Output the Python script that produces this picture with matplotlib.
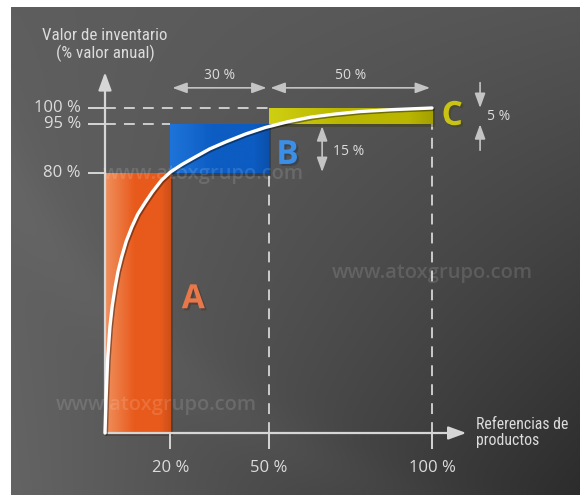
import numpy as np
import matplotlib
matplotlib.use('Agg')
import matplotlib.pyplot as plt
from matplotlib.patches import FancyArrowPatch
from matplotlib import patheffects as pe

# ---------------- data ----------------
classes = ['A', 'B', 'C']
cum_items = [20, 50, 100]        # cumulative % of product references
cum_value = [80, 95, 100]        # cumulative % of annual inventory value
x_ticks = [20, 50, 100]
x_tick_labels = ['20 %', '50 %', '100 %']
y_ticks = [80, 95, 100]
y_tick_labels = ['80 %', '95 %', '100 %']
curve_x = [0, 0.3, 0.8, 1.5, 2.2, 3.1, 4.0, 5.1, 6.5, 8.2, 10, 12.2, 14.5, 17.3,
           20, 23.5, 27, 32, 37, 43, 49, 56, 63, 70, 78, 88, 100]
curve_y = [0, 10, 22.5, 32.6, 39, 44.9, 49.8, 54.2, 59, 63.4, 67.3, 70.8, 74.2, 77.8,
           80.3, 82.6, 84.6, 87.4, 89.6, 92.0, 94.0, 95.8, 97.2, 98.1, 98.9, 99.5, 100]
y_title = 'Valor de inventario\n(% valor anual)'
x_title = 'Referencias de\nproductos'
watermark = 'www.atoxgrupo.com'

# ---------------- style ----------------
FONT = ['Open Sans', 'DejaVu Sans']
COND = ['Roboto Condensed', 'Liberation Sans Narrow', 'Roboto', 'DejaVu Sans']
LINE = '#d6d6d6'
TXT = '#dcdcdc'
ARR = '#c4c4c4'
bar_main = ['#e85a1c', '#0c5cc2', '#bab600']
bar_light = ['#f0905e', '#1e74da', '#cfcf12']
letter_colors = ['#e8784a', '#3d8fe6', '#c9c414']

fig = plt.figure(figsize=(5.8, 4.95), dpi=100)
fig.patch.set_facecolor('white')

# background gradient panel
bg = fig.add_axes([11 / 580, 0, 569 / 580, 488 / 495])
bg.axis('off')
H, W = 200, 240
u = np.linspace(0, 1, W)[None, :]
v = np.linspace(0, 1, H)[:, None]
tl, tr, bl, br = 0x5e, 0x55, 0x64, 0x2c
g = (tl * (1 - u) * (1 - v) + tr * u * (1 - v) + bl * (1 - u) * v + br * u * v) / 255.0
yy, xx = np.mgrid[0:H, 0:W]
r1 = np.hypot((xx - 300) / W, (yy + 60) / H)
g = g + 0.018 * np.exp(-((r1 - 1.42) / 0.06) ** 2)
img = np.dstack([g, g, g]).clip(0, 1)
bg.imshow(img, extent=[0, 1, 0, 1], aspect='auto', origin='upper')
bg.set_xlim(0, 1); bg.set_ylim(0, 1)

ax = fig.add_axes([0, 0, 1, 1])
ax.patch.set_alpha(0)
XL = (-105 / 3.27, (580 - 105) / 3.27)
YL = ((433 - 495) / 3.25, 433 / 3.25)
ax.set_xlim(*XL)
ax.set_ylim(*YL)
ax.axis('off')

# ---------------- bars ----------------
lefts = [0] + cum_items[:-1]
widths = list(np.diff([0] + cum_items))
bottoms = [0] + cum_value[:-1]
heights = list(np.diff([0] + cum_value))

bars = ax.bar(lefts, heights, width=widths, bottom=bottoms, align='edge',
              color=bar_main, edgecolor='none', zorder=3)
for b, cm, cl in zip(bars, bar_main, bar_light):
    b.set_path_effects([pe.SimplePatchShadow(offset=(2, -2), alpha=0.35), pe.Normal()])
    x0, y0 = b.get_x(), b.get_y()
    w, h = b.get_width(), b.get_height()
    c1 = np.array(matplotlib.colors.to_rgb(cl))
    c2 = np.array(matplotlib.colors.to_rgb(cm))
    t = np.linspace(0, 1, 100)
    f = np.clip(t / 0.45, 0, 1)[:, None]
    row = c1 * (1 - f) + c2 * f
    row = row * (1 - 0.12 * np.clip((t - 0.85) / 0.15, 0, 1))[:, None]
    grad = np.repeat(row[None, :, :], 2, axis=0).clip(0, 1)
    im = ax.imshow(grad, extent=[x0, x0 + w, y0, y0 + h], aspect='auto',
                   origin='lower', zorder=3.1, interpolation='bilinear')
    im.set_clip_path(b)
ax.set_xlim(*XL)
ax.set_ylim(*YL)

# ---------------- axes lines / arrows ----------------
ax.add_patch(FancyArrowPatch((0, 0), (0, 111), arrowstyle='-|>,head_length=0.6,head_width=0.22',
                             mutation_scale=18, color=LINE, lw=1.6, zorder=4,
                             shrinkA=0, shrinkB=0))
ax.add_patch(FancyArrowPatch((0, 0), (110.5, 0), arrowstyle='-|>,head_length=0.6,head_width=0.22',
                             mutation_scale=18, color=LINE, lw=1.6, zorder=4,
                             shrinkA=0, shrinkB=0))

# y ticks, labels and dashed guides
for yv, lab in zip(y_ticks, y_tick_labels):
    ax.plot([-5.3, 0], [yv, yv], color=LINE, lw=1.4, zorder=4, solid_capstyle='butt')
    ax.text(-7.4, yv, lab, ha='right', va='center', color=TXT, fontsize=12,
            family=FONT, zorder=5)
for i in range(1, len(cum_value)):
    ax.plot([0, lefts[i]], [cum_value[i], cum_value[i]], color=LINE, lw=1.3,
            dashes=(6, 4.5), zorder=2)

# x ticks, labels and dashed guides
for xv, lab in zip(x_ticks, x_tick_labels):
    ax.plot([xv, xv], [0, -5], color=LINE, lw=1.4, zorder=4, solid_capstyle='butt')
    ax.text(xv, -10.8, lab, ha='center', va='center', color=TXT, fontsize=12,
            family=FONT, zorder=5)
for i in range(1, len(cum_items)):
    ax.plot([cum_items[i], cum_items[i]], [0, bottoms[i]], color=LINE, lw=1.3,
            dashes=(6, 4.5), zorder=2)

# axis titles
ax.text(0, 119.4, y_title, ha='center', va='center', color=TXT, fontsize=12.2,
        family=COND, linespacing=1.1, zorder=5)
ax.text(113.6, 0.2, x_title, ha='left', va='center', color=TXT, fontsize=11.3,
        family=COND, linespacing=1.05, zorder=5)

# ---------------- curve ----------------
ax.plot(curve_x, curve_y, color='white', lw=2.4, zorder=6, solid_capstyle='round',
        path_effects=[pe.SimpleLineShadow(offset=(1, -1), alpha=0.4), pe.Normal()])

# ---------------- class letters ----------------
letter_pos = [(27, 41), (55.8, 85.4), (106.2, 97.4)]
for (lx, ly), c, col in zip(letter_pos, classes, letter_colors):
    ax.text(lx, ly, c, ha='center', va='center', color=col, fontsize=24,
            fontweight='bold', family=FONT, zorder=6,
            path_effects=[pe.withSimplePatchShadow(offset=(1.5, -1.5), alpha=0.35)])

# ---------------- dimension arrows ----------------
dim_style = '<|-|>,head_length=0.55,head_width=0.2'
yh = 106.2
for i in range(1, len(cum_items)):
    xa, xb = lefts[i], cum_items[i]
    ax.add_patch(FancyArrowPatch((xa + 0.6, yh), (xb - 0.6, yh), arrowstyle=dim_style,
                                 mutation_scale=16, color=ARR, lw=1.2, zorder=4,
                                 shrinkA=0, shrinkB=0))
    ax.text((xa + xb) / 2, 110.0, f'{widths[i]} %', ha='center', va='center',
            color=TXT, fontsize=10, family=FONT, zorder=5)

# vertical: class B height
xb15 = 66.4
ax.add_patch(FancyArrowPatch((xb15, bottoms[1] + 0.3), (xb15, cum_value[1] - 0.6),
                             arrowstyle=dim_style, mutation_scale=16, color=ARR, lw=1.2,
                             zorder=4, shrinkA=0, shrinkB=0))
ax.text(69.6, (bottoms[1] + cum_value[1]) / 2 - 0.8, f'{heights[1]} %', ha='left',
        va='center', color=TXT, fontsize=10, family=FONT, zorder=5)

# vertical: class C height (inward arrows)
xc5 = 114.7
one_head = '-|>,head_length=0.55,head_width=0.2'
ax.add_patch(FancyArrowPatch((xc5, 107.8), (xc5, cum_value[2]), arrowstyle=one_head,
                             mutation_scale=16, color=ARR, lw=1.2, zorder=4,
                             shrinkA=0, shrinkB=0))
ax.add_patch(FancyArrowPatch((xc5, 87.0), (xc5, bottoms[2]), arrowstyle=one_head,
                             mutation_scale=16, color=ARR, lw=1.2, zorder=4,
                             shrinkA=0, shrinkB=0))
ax.text(116.9, (bottoms[2] + cum_value[2]) / 2, f'{heights[2]} %', ha='left',
        va='center', color=TXT, fontsize=10, family=FONT, zorder=5)

# ---------------- watermarks ----------------
for wx, wy in [(30.0, 79.6), (100.0, 49.2), (15.6, 8.6)]:
    ax.text(wx, wy, watermark, ha='center', va='center', color='white', alpha=0.13,
            fontsize=14.5, fontweight='semibold', family=FONT, zorder=7)

fig.savefig('out.png', dpi=100, facecolor='white')
